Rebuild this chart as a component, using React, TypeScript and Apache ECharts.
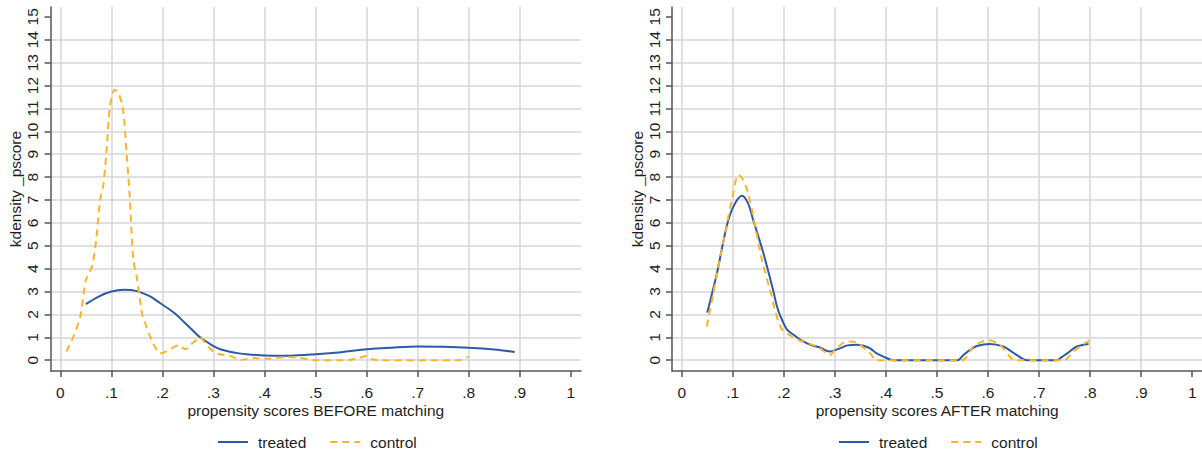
import React, { useEffect, useRef } from "react";
import * as echarts from "echarts";

// ---------- data ----------
const xTicks = [0, 0.1, 0.2, 0.3, 0.4, 0.5, 0.6, 0.7, 0.8, 0.9, 1];
const yTicks = [0, 1, 2, 3, 4, 5, 6, 7, 8, 9, 10, 11, 12, 13, 14, 15];
const seriesNames = ["treated", "control"];
const xTitles = ["propensity scores BEFORE matching", "propensity scores AFTER matching"];
const yTitle = "kdensity _pscore";

const beforeTreated: [number, number][] = [
  [0.05, 2.45], [0.075, 2.78], [0.1, 3.0], [0.125, 3.08], [0.15, 3.02], [0.175, 2.8],
  [0.19, 2.58], [0.21, 2.28], [0.228, 1.98], [0.24, 1.72], [0.255, 1.4], [0.274, 1.0],
  [0.29, 0.76], [0.3, 0.62], [0.315, 0.47], [0.332, 0.37], [0.35, 0.3], [0.365, 0.26],
  [0.4, 0.21], [0.45, 0.2], [0.5, 0.26], [0.55, 0.35], [0.6, 0.48], [0.65, 0.55],
  [0.7, 0.6], [0.75, 0.59], [0.8, 0.55], [0.85, 0.47], [0.89, 0.36],
];
const beforeControl: [number, number][] = [
  [0.012, 0.38], [0.025, 1.0], [0.039, 1.9], [0.05, 3.5], [0.062, 4.1], [0.07, 5.2],
  [0.078, 7.0], [0.084, 7.6], [0.09, 9.0], [0.0975, 11.1], [0.107, 11.82], [0.115, 11.6],
  [0.123, 10.95], [0.13, 9.0], [0.136, 7.15], [0.143, 4.4], [0.15, 3.6], [0.16, 2.05],
  [0.165, 1.7], [0.176, 1.03], [0.185, 0.6], [0.196, 0.3], [0.205, 0.36], [0.215, 0.48],
  [0.232, 0.65], [0.245, 0.48], [0.255, 0.67], [0.265, 0.85], [0.274, 1.02], [0.282, 0.8],
  [0.29, 0.58], [0.306, 0.3], [0.332, 0.19], [0.355, 0.02], [0.378, 0.1], [0.404, 0.06],
  [0.443, 0.14], [0.47, 0.1], [0.5, 0.0], [0.56, 0.0], [0.585, 0.1], [0.6, 0.19],
  [0.615, 0.02], [0.63, 0.0], [0.78, 0.0], [0.8, 0.16],
];
const afterTreated: [number, number][] = [
  [0.05, 2.08], [0.069, 3.8], [0.088, 5.84], [0.101, 6.7], [0.118, 7.18], [0.13, 6.85],
  [0.14, 6.13], [0.16, 4.68], [0.179, 3.07], [0.186, 2.4], [0.192, 2.0], [0.206, 1.35],
  [0.22, 1.1], [0.238, 0.82], [0.255, 0.65], [0.271, 0.55], [0.29, 0.38], [0.31, 0.52],
  [0.325, 0.65], [0.343, 0.68], [0.356, 0.63], [0.369, 0.52], [0.382, 0.3], [0.395, 0.16],
  [0.415, 0.0], [0.54, 0.0], [0.552, 0.23], [0.565, 0.45], [0.578, 0.62], [0.604, 0.71],
  [0.63, 0.6], [0.645, 0.4], [0.656, 0.23], [0.676, 0.0], [0.735, 0.0], [0.745, 0.15],
  [0.755, 0.3], [0.774, 0.6], [0.797, 0.71],
];
const afterControl: [number, number][] = [
  [0.049, 1.47], [0.06, 2.7], [0.069, 3.75], [0.088, 5.9], [0.1, 7.2], [0.111, 8.1],
  [0.12, 7.9], [0.13, 7.3], [0.14, 6.3], [0.157, 4.4], [0.175, 2.9], [0.1825, 2.2],
  [0.196, 1.36], [0.215, 1.05], [0.232, 0.85], [0.265, 0.6], [0.284, 0.3], [0.29, 0.23],
  [0.3, 0.45], [0.317, 0.77], [0.33, 0.82], [0.343, 0.77], [0.369, 0.3], [0.382, 0.0],
  [0.549, 0.0], [0.571, 0.6], [0.585, 0.78], [0.601, 0.87], [0.624, 0.66], [0.643, 0.15],
  [0.653, 0.0], [0.748, 0.0], [0.768, 0.38], [0.787, 0.71], [0.805, 0.9],
];

// ---------- styles ----------
const BLUE = "#2d5aa6";
const ORANGE = "#fdb42a";
const AXIS = "#555555";
const GRID = "#d6d6d6";
const TEXT = "#1e1e1e";
const FONT = "'Liberation Sans', Arial, sans-serif";
const FS = 15.5;

const fmtX = (v: number) => (v === 0 ? "0" : v === 1 ? "1" : String(v).replace(/^0/, ""));

export default function App() {
  const ref = useRef<HTMLDivElement>(null);
  useEffect(() => {
    if (!ref.current) return;
    const chart = echarts.init(ref.current, null, { renderer: "svg" });

    const grids = [
      { left: 50.6, top: 7, width: 530.4, height: 364 },
      { left: 672, top: 7, width: 530.4, height: 364 },
    ];
    const mkX = (i: number) => ({
      type: "value",
      gridIndex: i,
      min: -0.019,
      max: 1.02,
      name: xTitles[i],
      nameLocation: "middle",
      nameGap: 31,
      nameMoveOverlap: false,
      nameTextStyle: { fontSize: FS, color: TEXT, fontFamily: FONT },
      axisLine: { show: true, onZero: false, lineStyle: { color: AXIS, width: 1.5 } },
      axisTick: { show: true, inside: false, length: 6, customValues: xTicks, lineStyle: { color: AXIS, width: 1.5 } },
      axisLabel: { show: true, customValues: xTicks, margin: 13, fontSize: FS, color: TEXT, fontFamily: FONT, formatter: fmtX },
      splitLine: { show: true, showMinLine: true, showMaxLine: false, lineStyle: { color: GRID, width: 1.5 } },
    });
    const mkY = (i: number) => ({
      type: "value",
      gridIndex: i,
      min: -0.47,
      max: 15.43,
      name: yTitle,
      nameLocation: "middle",
      nameGap: 27,
      nameRotate: 90,
      nameMoveOverlap: false,
      nameTextStyle: { fontSize: FS, color: TEXT, fontFamily: FONT },
      axisLine: { show: true, onZero: false, lineStyle: { color: AXIS, width: 1.5 } },
      axisTick: { show: true, inside: false, length: 6, customValues: yTicks, lineStyle: { color: AXIS, width: 1.5 } },
      axisLabel: { show: true, customValues: yTicks, rotate: 90, margin: 10, fontSize: FS, color: TEXT, fontFamily: FONT, formatter: (v: number) => String(v) },
      splitLine: { show: true, showMinLine: true, showMaxLine: false, lineStyle: { color: GRID, width: 1.5 } },
    });
    const mkSeries = (name: string, data: [number, number][], i: number, color: string, dashed: boolean) => ({
      type: "line",
      name,
      xAxisIndex: i,
      yAxisIndex: i,
      data,
      symbol: "none",
      showSymbol: false,
      smooth: 0.3,
      clip: false,
      lineStyle: { color, width: 2, type: dashed ? [7, 5] : "solid" },
      itemStyle: { color },
      emphasis: { disabled: true },
    });

    const option = {
      animation: false,
      backgroundColor: "#ffffff",
      textStyle: { fontFamily: FONT },
      grid: grids.map((g) => ({ ...g, containLabel: false, outerBoundsMode: "none" })),
      xAxis: [mkX(0), mkX(1)],
      yAxis: [mkY(0), mkY(1)],
      legend: [212, 833].map((l) => ({
        left: l,
        top: 429,
        orient: "horizontal",
        data: seriesNames,
        itemWidth: 30,
        itemHeight: 14,
        itemGap: 23,
        selectedMode: false,
        itemStyle: { color: "rgba(0,0,0,0)", borderColor: "rgba(0,0,0,0)", borderWidth: 0, opacity: 0 },
        textStyle: { fontSize: FS, color: TEXT, fontFamily: FONT, padding: [0, 0, 0, 5] },
      })),
      series: [
        mkSeries(seriesNames[0], beforeTreated, 0, BLUE, false),
        mkSeries(seriesNames[1], beforeControl, 0, ORANGE, true),
        mkSeries(seriesNames[0], afterTreated, 1, BLUE, false),
        mkSeries(seriesNames[1], afterControl, 1, ORANGE, true),
      ],
    };
    chart.setOption(option as any);
    return () => chart.dispose();
  }, []);
  return (
    <div
      ref={ref}
      style={{ position: "fixed", left: 0, top: 0, width: 1202, height: 454, background: "#fff" }}
    />
  );
}
